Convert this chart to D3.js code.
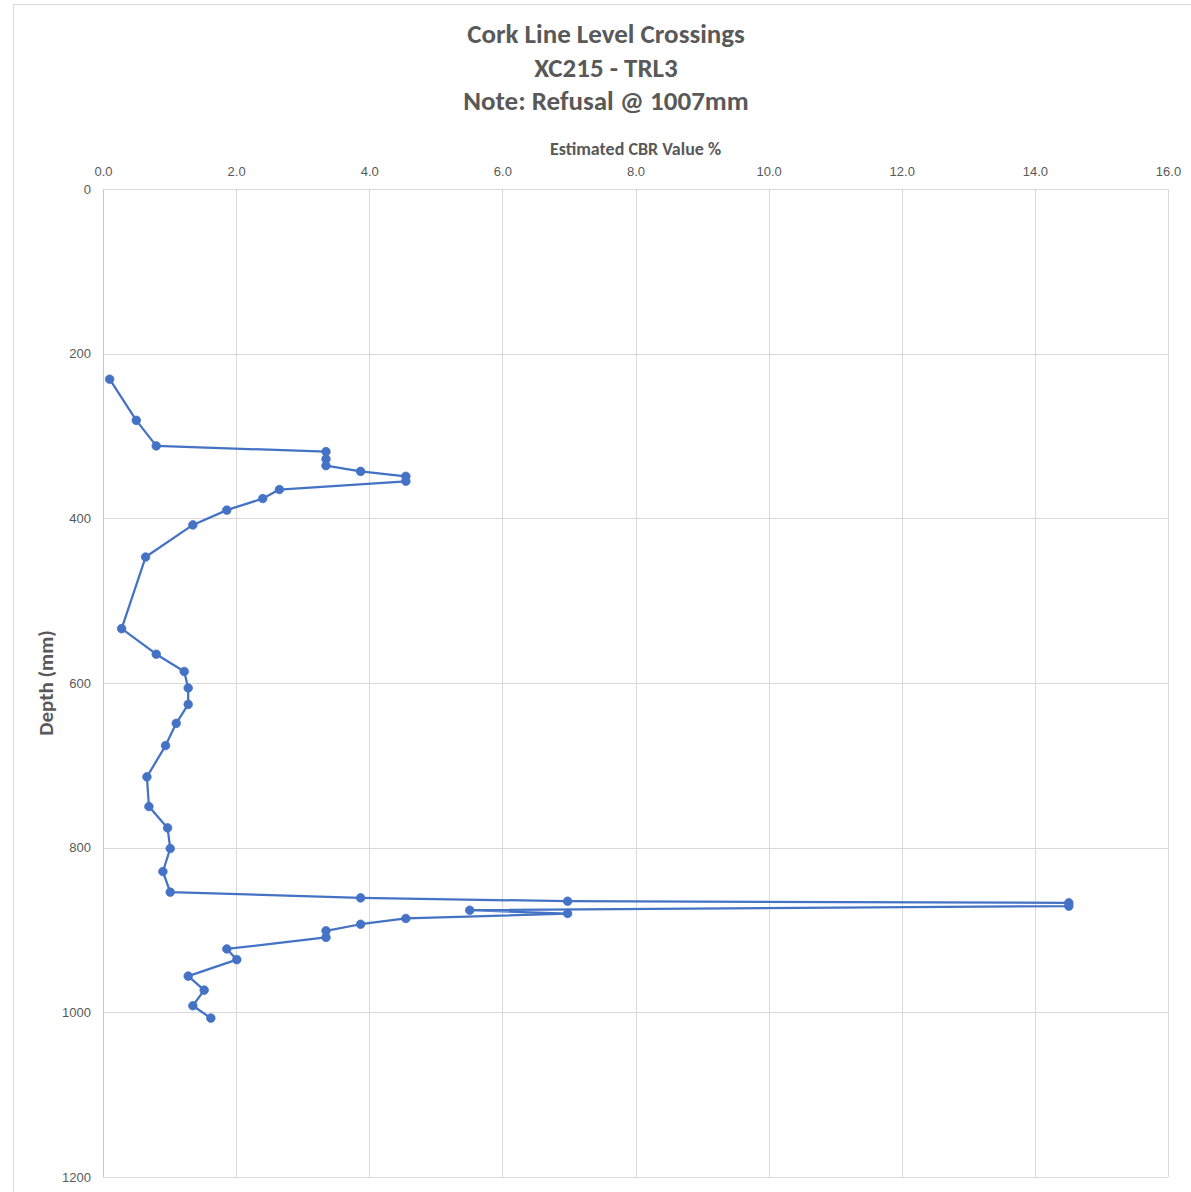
<!DOCTYPE html>
<html>
<head>
<meta charset="utf-8">
<script src="https://cdn.jsdelivr.net/npm/d3@7"></script>
<style>
  html, body { margin: 0; padding: 0; background: #ffffff; }
  svg { display: block; font-family: Carlito, Calibri, Lato, "Open Sans", sans-serif; }
</style>
</head>
<body>
<svg id="chart" width="1191" height="1192"></svg>
<script>
// ---- Data ----
const titleLines = ["Cork Line Level Crossings", "XC215 - TRL3", "Note: Refusal @ 1007mm"];
const xAxisTitle = "Estimated CBR Value %";
const yAxisTitle = "Depth (mm)";
const xTicks = [0, 2, 4, 6, 8, 10, 12, 14, 16];
const yTicks = [0, 200, 400, 600, 800, 1000, 1200];

const depthMm = [231, 281, 312, 319, 328, 336, 343, 349, 355, 365, 376, 390, 408, 447,
                 534, 565, 586, 606, 626, 649, 676, 714, 750, 776, 801, 829, 854,
                 861, 865, 867, 871, 876, 880, 886, 893, 901, 909, 923, 936, 956, 973, 992, 1007];
const cbrValue = [0.1, 0.5, 0.8, 3.35, 3.35, 3.35, 3.87, 4.55, 4.55, 2.65, 2.40, 1.86, 1.35, 0.64,
                  0.28, 0.8, 1.22, 1.28, 1.28, 1.10, 0.94, 0.66, 0.69, 0.97, 1.01, 0.90, 1.01,
                  3.87, 6.98, 14.51, 14.51, 5.51, 6.98, 4.55, 3.87, 3.35, 3.35, 1.86, 2.01, 1.28, 1.52, 1.35, 1.62];

// ---- Layout ----
const svg = d3.select("#chart");
const W = 1191, H = 1192;
const plot = { left: 103, right: 1168, top: 189, bottom: 1177 };
const textColor = "#595959";
const gridColor = "#d9d9d9";
const lineColor = "#4472C4";

// outer chart border
svg.append("rect")
  .attr("x", 13.5).attr("y", 4.5)
  .attr("width", W + 10).attr("height", H + 10)
  .attr("fill", "#ffffff")
  .attr("stroke", "#d9d9d9").attr("stroke-width", 1);

const x = d3.scaleLinear().domain([0, 16]).range([plot.left, plot.right]);
const y = d3.scaleLinear().domain([0, 1200]).range([plot.top, plot.bottom]);

// gridlines
const grid = svg.append("g");
grid.selectAll("line.v").data(xTicks).enter().append("line")
  .attr("x1", d => Math.round(x(d)) + 0.5).attr("x2", d => Math.round(x(d)) + 0.5)
  .attr("y1", plot.top).attr("y2", plot.bottom)
  .attr("stroke", gridColor).attr("stroke-width", 1);
grid.selectAll("line.h").data(yTicks).enter().append("line")
  .attr("y1", d => Math.round(y(d)) + 0.5).attr("y2", d => Math.round(y(d)) + 0.5)
  .attr("x1", plot.left).attr("x2", plot.right)
  .attr("stroke", gridColor).attr("stroke-width", 1);

// left axis line slightly darker
svg.append("line")
  .attr("x1", plot.left + 0.5).attr("x2", plot.left + 0.5)
  .attr("y1", plot.top).attr("y2", plot.bottom)
  .attr("stroke", "#c8c8c8");

// axes (labels only, via d3 axis)
const xAxis = d3.axisTop(x).tickValues(xTicks).tickFormat(d3.format(".1f")).tickSize(0).tickPadding(0);
const gx = svg.append("g").attr("transform", `translate(0, ${plot.top - 13})`).call(xAxis);
gx.select(".domain").remove();
gx.selectAll("text").attr("fill", textColor).style("font-size", "13px");

const yAxis = d3.axisLeft(y).tickValues(yTicks).tickFormat(d3.format("d")).tickSize(0).tickPadding(0);
const gy = svg.append("g").attr("transform", `translate(${plot.left - 12}, 0)`).call(yAxis);
gy.select(".domain").remove();
gy.selectAll("text").attr("fill", textColor).style("font-size", "13px");

// title
const title = svg.append("text")
  .attr("x", 606).attr("y", 43)
  .attr("text-anchor", "middle")
  .attr("fill", textColor)
  .style("font-size", "27px").style("font-weight", "bold");
titleLines.forEach((t, i) => {
  title.append("tspan").attr("x", 606).attr("y", 43 + i * 33.5).text(t);
});

// axis titles
svg.append("text")
  .attr("x", (plot.left + plot.right) / 2).attr("y", 155)
  .attr("text-anchor", "middle").attr("fill", textColor)
  .style("font-size", "18px").style("font-weight", "bold")
  .text(xAxisTitle);

svg.append("text")
  .attr("transform", `translate(53, ${(plot.top + plot.bottom) / 2}) rotate(-90)`)
  .attr("text-anchor", "middle").attr("fill", textColor)
  .style("font-size", "21px").style("font-weight", "bold")
  .text(yAxisTitle);

// data series
const pts = depthMm.map((d, i) => ({ depth: d, cbr: cbrValue[i] }));
const line = d3.line().x(d => x(d.cbr)).y(d => y(d.depth));
svg.append("path")
  .datum(pts)
  .attr("d", line)
  .attr("fill", "none")
  .attr("stroke", lineColor)
  .attr("stroke-width", 2.25)
  .attr("stroke-linejoin", "round");

svg.append("g").selectAll("circle").data(pts).enter().append("circle")
  .attr("cx", d => x(d.cbr)).attr("cy", d => y(d.depth))
  .attr("r", 4.3)
  .attr("fill", lineColor)
  .attr("stroke", lineColor).attr("stroke-width", 0.75);
</script>
</body>
</html>
